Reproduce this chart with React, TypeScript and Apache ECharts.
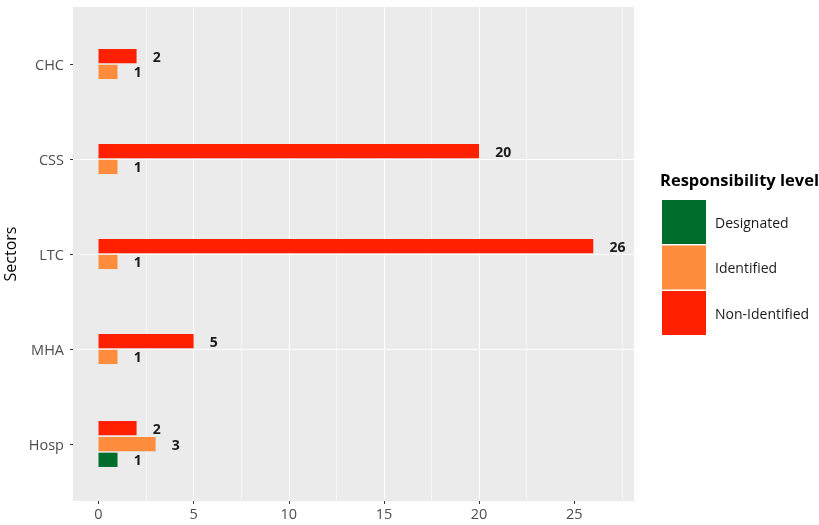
import React, { useEffect, useRef } from "react";
import * as echarts from "echarts";

// ---- data (bottom to top) ----
const categories = ["Hosp", "MHA", "LTC", "CSS", "CHC"];
const levels = ["Designated", "Identified", "Non-Identified"];
const designated: (number | null)[] = [1, null, null, null, null];
const identified: (number | null)[] = [3, 1, 1, 1, 1];
const nonIdentified: (number | null)[] = [2, 5, 26, 20, 2];
const xTicks = [0, 5, 10, 15, 20, 25];

const levelValues = [designated, identified, nonIdentified];
const colors = ["#006D2C", "#FD8D3C", "#FF2000"];
const FONT = "'Open Sans', 'Noto Sans', sans-serif";

// positions of categories on the numeric y scale (1..n)
const catPos = categories.map((_, i) => i + 1);

function buildSeriesData(li: number) {
  const out: number[][] = [];
  categories.forEach((_, ci) => {
    const present = levelValues
      .map((arr, k) => (arr[ci] != null ? k : -1))
      .filter((k) => k >= 0);
    const n = present.length;
    const slot = present.indexOf(li);
    const v = levelValues[li][ci];
    if (v != null && slot >= 0) {
      out.push([v, catPos[ci], slot - (n - 1) / 2]);
    }
  });
  return out;
}

export default function App() {
  const ref = useRef<HTMLDivElement>(null);
  useEffect(() => {
    if (!ref.current) return;
    const chart = echarts.init(ref.current, undefined, { renderer: "svg" });

    const renderItem = (color: string) => (params: any, api: any) => {
      const v = api.value(0);
      const c = api.value(1);
      const off = api.value(2);
      const band = api.size([0, 1])[1];
      const pitch = (band * 0.5) / 3;
      const h = pitch * 0.9;
      const p0 = api.coord([0, c]);
      const p1 = api.coord([v, c]);
      const pl = api.coord([v + 0.85, c]);
      const cy = p0[1] - off * pitch;
      return {
        type: "group",
        children: [
          {
            type: "rect",
            shape: { x: p0[0], y: cy - h / 2, width: p1[0] - p0[0], height: h },
            style: { fill: color },
          },
          {
            type: "text",
            x: pl[0],
            y: cy,
            style: {
              text: String(v),
              fill: "#1A1A1A",
              fontSize: 14,
              fontWeight: "bold",
              fontFamily: FONT,
              align: "left",
              verticalAlign: "middle",
            },
          },
        ],
      };
    };

    const option: any = {
      animation: false,
      color: colors,
      title: {
        text: "Responsibility level",
        left: 660,
        top: 171,
        padding: 0,
        textStyle: { fontSize: 16.5, fontWeight: "bold", color: "#000", fontFamily: FONT },
      },
      legend: {
        data: levels,
        orient: "vertical",
        left: 662,
        top: 200,
        padding: 0,
        icon: "rect",
        itemWidth: 44,
        itemHeight: 44,
        itemGap: 1.5,
        textStyle: { fontSize: 14, color: "#1A1A1A", fontFamily: FONT, padding: [0, 0, 0, 4] },
        selectedMode: false,
      },
      grid: {
        left: 73,
        right: 185,
        top: 7,
        bottom: 24,
        show: true,
        backgroundColor: "#EBEBEB",
        borderWidth: 0,
        containLabel: false,
        outerBoundsMode: "none",
      },
      xAxis: {
        type: "value",
        min: -1.34,
        max: 28.14,
        axisLine: { show: false, onZero: false },
        axisTick: {
          show: true,
          length: 3,
          lineStyle: { color: "#333333", width: 1 },
          customValues: xTicks,
        },
        axisLabel: {
          color: "#4D4D4D",
          fontSize: 14.5,
          fontFamily: FONT,
          margin: 5,
          customValues: xTicks,
          formatter: (val: number) => (xTicks.includes(val) ? String(val) : ""),
        },
        splitLine: {
          show: true,
          showMinLine: false,
          showMaxLine: false,
          lineStyle: { color: "#FFFFFF", width: 1.1 },
        },
        minorTick: { show: false, splitNumber: 2 },
        minorSplitLine: { show: true, lineStyle: { color: "#FFFFFF", width: 0.55 } },
      },
      yAxis: {
        type: "value",
        min: 0.4,
        max: catPos.length + 0.6,
        name: "Sectors",
        nameLocation: "middle",
        nameGap: 48,
        nameTextStyle: { fontSize: 16, color: "#000", fontFamily: FONT },
        axisLine: { show: false, onZero: false },
        axisTick: {
          show: true,
          length: 3,
          lineStyle: { color: "#333333", width: 1 },
          customValues: catPos,
        },
        axisLabel: {
          color: "#4D4D4D",
          fontSize: 14.5,
          fontFamily: FONT,
          margin: 9,
          customValues: catPos,
          formatter: (val: number) => {
            const i = catPos.indexOf(val);
            return i >= 0 ? categories[i] : "";
          },
        },
        splitLine: {
          show: true,
          showMinLine: false,
          showMaxLine: false,
          lineStyle: { color: "#FFFFFF", width: 1.1 },
        },
      },
      series: levels.map((name, li) => ({
        name,
        type: "custom",
        itemStyle: { color: colors[li] },
        renderItem: renderItem(colors[li]),
        encode: { x: 0, y: 1 },
        data: buildSeriesData(li),
      })),
    };
    chart.setOption(option);
    return () => chart.dispose();
  }, []);
  return (
    <div
      ref={ref}
      style={{ position: "fixed", left: 0, top: 0, width: 819, height: 525 }}
    />
  );
}
